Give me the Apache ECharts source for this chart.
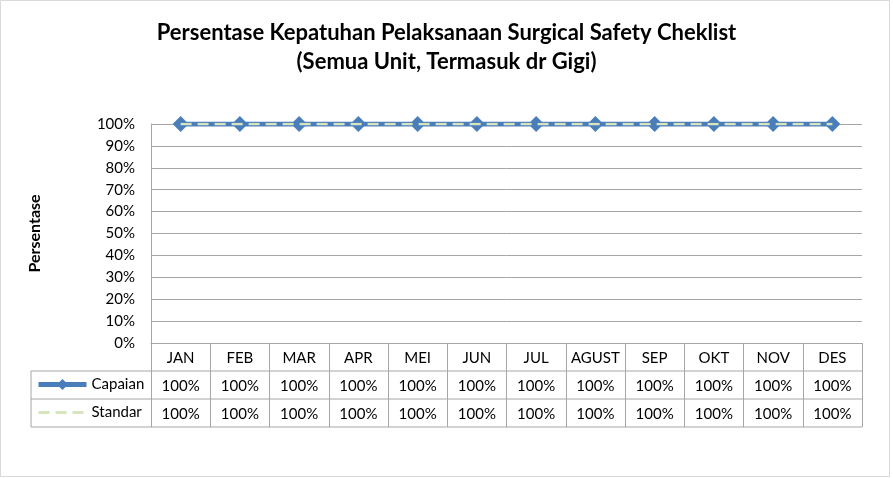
<!DOCTYPE html>
<html>
<head>
<meta charset="utf-8">
<script src="https://cdn.jsdelivr.net/npm/echarts@6/dist/echarts.min.js"></script>
<style>
html,body{margin:0;padding:0;background:#fff;}
#c{width:893px;height:478px;}
</style>
</head>
<body>
<div id="c"></div>
<script>
const categories = ['JAN','FEB','MAR','APR','MEI','JUN','JUL','AGUST','SEP','OKT','NOV','DES'];
const capaian = [100,100,100,100,100,100,100,100,100,100,100,100];
const standar = [100,100,100,100,100,100,100,100,100,100,100,100];
const yTicks = {min: 0, max: 100, interval: 10};
const seriesNames = ['Capaian', 'Standar'];

const FONT = 'Lato, "Open Sans", sans-serif';
const GRID_L = 151, GRID_R = 862, GRID_T = 124, GRID_B = 343;
const ROW_H = 28;
const LEG_L = 31;
const lineColor = '#A6A6A6';

const chart = echarts.init(document.getElementById('c'), null, {renderer: 'canvas'});

function valueAxis(offset, arr) {
  return {
    type: 'category', data: categories, position: 'bottom', offset: offset,
    boundaryGap: true,
    axisLine: {show: false}, axisTick: {show: false}, splitLine: {show: false},
    axisLabel: {color: '#000', fontSize: 15, fontFamily: FONT, margin: 8, interval: 0,
      formatter: (v, i) => arr[i] + '%'}
  };
}

const option = {
  backgroundColor: '#fff',
  animation: false,
  title: {
    text: 'Persentase Kepatuhan Pelaksanaan Surgical Safety Cheklist\n(Semua Unit, Termasuk dr Gigi)',
    left: 'center', top: 13,
    textStyle: {fontFamily: FONT, fontSize: 22, fontWeight: 'bold', color: '#000', lineHeight: 29}
  },
  grid: {left: GRID_L, right: 893 - GRID_R, top: GRID_T, bottom: 478 - GRID_B},
  legend: {
    orient: 'vertical', left: 36, top: 377, padding: 0,
    itemWidth: 48, itemHeight: 14, itemGap: 13,
    textStyle: {fontFamily: FONT, fontSize: 15, color: '#000'},
    data: [
      {name: seriesNames[0], lineStyle: {width: 5}},
      {name: seriesNames[1], itemStyle: {opacity: 0}, lineStyle: {width: 3}}
    ]
  },
  xAxis: [
    {
      type: 'category', data: categories, boundaryGap: true,
      axisLine: {show: true, lineStyle: {color: lineColor, width: 1}},
      axisTick: {show: true, interval: 0, length: ROW_H * 3, lineStyle: {color: lineColor}},
      axisLabel: {color: '#000', fontSize: 15, fontFamily: FONT, margin: 8, interval: 0}
    },
    valueAxis(ROW_H, capaian),
    valueAxis(ROW_H * 2, standar)
  ],
  yAxis: {
    type: 'value', min: yTicks.min, max: yTicks.max, interval: yTicks.interval,
    name: 'Persentase', nameLocation: 'middle', nameRotate: 90, nameGap: 108,
    nameTextStyle: {fontFamily: FONT, fontSize: 16, fontWeight: 'bold', color: '#000'},
    axisLine: {show: true, lineStyle: {color: lineColor}},
    axisTick: {show: false},
    splitLine: {show: true, lineStyle: {color: lineColor, width: 1}},
    axisLabel: {color: '#000', fontSize: 15, fontFamily: FONT, margin: 16, formatter: '{value}%'}
  },
  series: [
    {
      name: seriesNames[0], type: 'line', data: capaian, z: 2,
      symbol: 'diamond', symbolSize: 16,
      lineStyle: {color: '#4A7EBB', width: 5},
      itemStyle: {color: '#4A7EBB'}
    },
    {
      name: seriesNames[1], type: 'line', data: standar, z: 3,
      symbol: 'none',
      lineStyle: {color: '#D7E4BD', width: 2.5, type: [11, 6]},
      itemStyle: {color: '#D7E4BD'}
    }
  ],
  graphic: [
    {type: 'rect', silent: true, z: -10, shape: {x: 0.5, y: 0.5, width: 889, height: 476},
      style: {fill: 'none', stroke: '#D9D9D9', lineWidth: 1}},
    {type: 'line', silent: true, shape: {x1: LEG_L, y1: GRID_B + ROW_H, x2: GRID_R, y2: GRID_B + ROW_H},
      style: {stroke: lineColor, lineWidth: 1}},
    {type: 'line', silent: true, shape: {x1: LEG_L, y1: GRID_B + ROW_H * 2, x2: GRID_R, y2: GRID_B + ROW_H * 2},
      style: {stroke: lineColor, lineWidth: 1}},
    {type: 'line', silent: true, shape: {x1: LEG_L, y1: GRID_B + ROW_H * 3, x2: GRID_R, y2: GRID_B + ROW_H * 3},
      style: {stroke: lineColor, lineWidth: 1}},
    {type: 'line', silent: true, shape: {x1: LEG_L, y1: GRID_B + ROW_H, x2: LEG_L, y2: GRID_B + ROW_H * 3},
      style: {stroke: lineColor, lineWidth: 1}}
  ]
};
chart.setOption(option);
</script>
</body>
</html>
